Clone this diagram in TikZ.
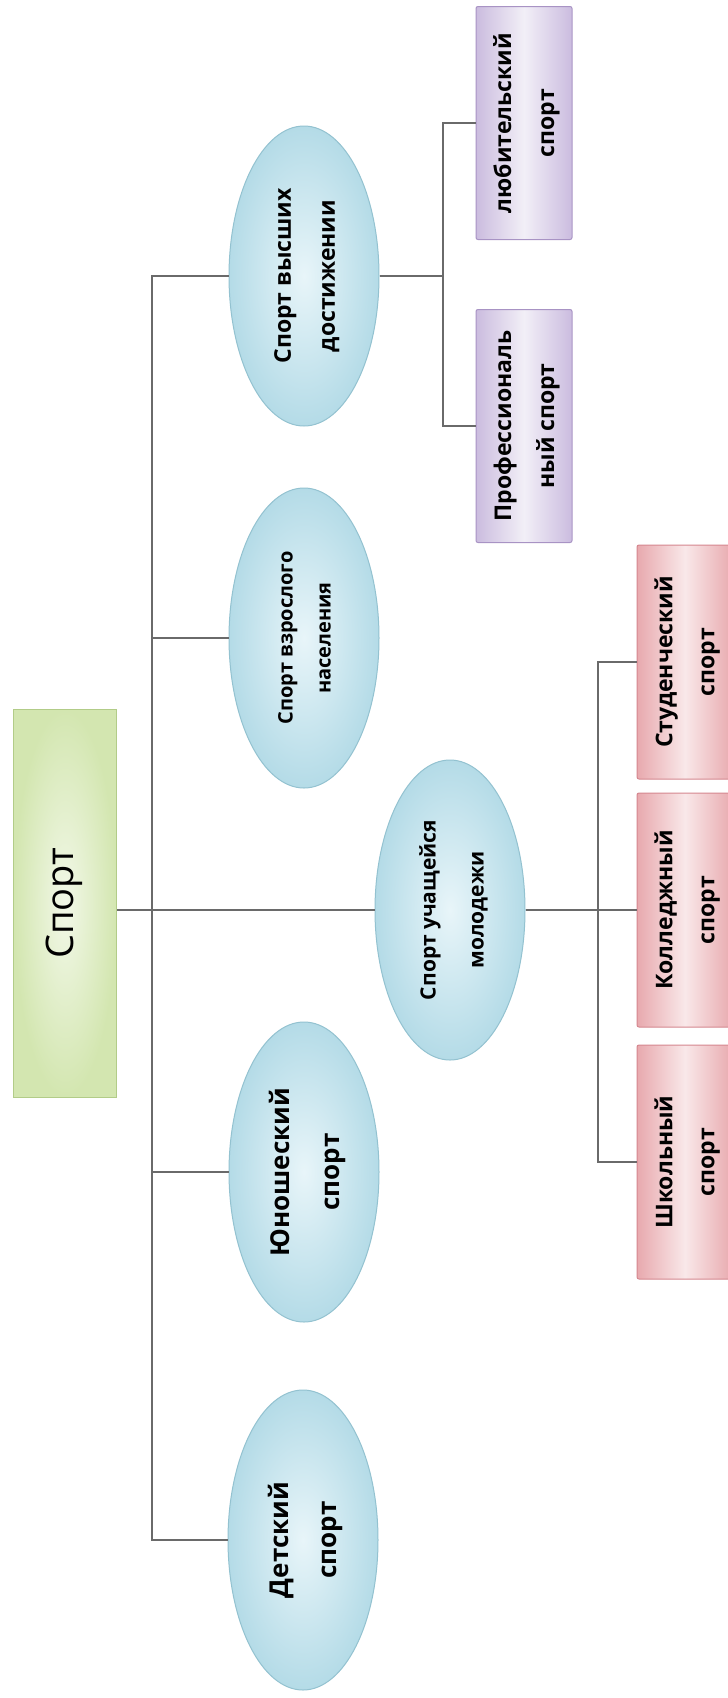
\documentclass[tikz,border=0pt]{standalone}
\usepackage{fontspec}
\usepackage{graphicx}
\setmainfont{Open Sans}
\usetikzlibrary{shapes.geometric}

\definecolor{lineC}{HTML}{6A6A6A}
\definecolor{blueIn}{HTML}{E8F5F9}
\definecolor{blueOut}{HTML}{B4DBE7}
\definecolor{blueEdge}{HTML}{93C2D0}
\definecolor{greenIn}{HTML}{F2F8E8}
\definecolor{greenOut}{HTML}{D3E6B0}
\definecolor{greenEdge}{HTML}{B2CC88}
\definecolor{violetIn}{HTML}{F2EFF7}
\definecolor{violetOut}{HTML}{CBBCDF}
\definecolor{violetEdge}{HTML}{A893C4}
\definecolor{pinkIn}{HTML}{F9E8E9}
\definecolor{pinkOut}{HTML}{E8A9AE}
\definecolor{pinkEdge}{HTML}{D5878F}

% text set bottom-to-top: size, line pitch, lines
\newcommand{\uptext}[3]{\rotatebox{90}{\fontsize{#1}{#2}\selectfont
  \begin{tabular}{@{}c@{}}#3\end{tabular}}}

\tikzset{
  conn/.style={draw=lineC, line width=1.4pt},
  oval/.style={ellipse, draw=blueEdge, line width=1pt,
    inner color=blueIn, outer color=blueOut,
    minimum width=150pt, minimum height=300pt, inner sep=0pt,
    font=\bfseries},
  rootbox/.style={rectangle, draw=greenEdge, line width=1pt,
    inner color=greenIn, outer color=greenOut,
    minimum width=103pt, minimum height=388pt, inner sep=0pt},
  violetbox/.style={rectangle, rounded corners=2pt, draw=violetEdge, line width=1pt,
    left color=violetOut, right color=violetOut, middle color=violetIn,
    minimum width=96pt, minimum height=233pt, inner sep=0pt, font=\bfseries},
  pinkbox/.style={rectangle, rounded corners=2pt, draw=pinkEdge, line width=1pt,
    left color=pinkOut, right color=pinkOut, middle color=pinkIn,
    minimum width=96pt, minimum height=234pt, inner sep=0pt, font=\bfseries},
}

\begin{document}
\begin{tikzpicture}[x=1pt, y=-1pt]
  \path[use as bounding box, fill=white] (0,0) rectangle (728,1698);
  \clip (0,0) rectangle (728,1698);

  % root
  \node[rootbox] (root) at (65,903) {\uptext{38}{44}{Спорт}};

  % second level
  \node[oval] (vys) at (304,276) {\uptext{23}{44}{Спорт высших\\достижении}};
  \node[oval] (vzr) at (304,638) {\uptext{20}{38}{Спорт взрослого\\населения}};
  \node[oval] (ucha) at (450,910) {\uptext{21}{48}{Спорт учащейся\\молодежи}};
  \node[oval] (yun) at (304,1172) {\uptext{26}{50}{Юношеский\\спорт}};
  \node[oval] (det) at (303,1540) {\uptext{26}{48}{Детский\\спорт}};

  % third level
  \node[violetbox] (lyub) at (524,123) {\uptext{23}{43}{любительский\\спорт}};
  \node[violetbox] (prof) at (524,426) {\uptext{23}{43}{Профессиональ\\ный спорт}};
  \node[pinkbox] (stud) at (685,662) {\uptext{23}{42}{Студенческий\\спорт}};
  \node[pinkbox] (koll) at (685,910) {\uptext{23}{42}{Колледжный\\спорт}};
  \node[pinkbox] (shk) at (685,1162) {\uptext{23}{42}{Школьный\\спорт}};

  % bus lines
  \coordinate (trunk) at (152,0);
  \coordinate (vbus) at (443,0);
  \coordinate (pbus) at (598,0);

  \draw[conn] (vys.west) -- (vys.west -| trunk) -- (det.west -| trunk) -- (det.west);
  \draw[conn] (vzr.west) -- (vzr.west -| trunk);
  \draw[conn] (yun.west) -- (yun.west -| trunk);
  \draw[conn] (ucha.west -| root.east) -- (ucha.west);

  \draw[conn] (vys.east) -- (vys.east -| vbus);
  \draw[conn] (lyub.west) -- (lyub.west -| vbus) -- (prof.west -| vbus) -- (prof.west);

  \draw[conn] (ucha.east) -- (koll.west);
  \draw[conn] (stud.west) -- (stud.west -| pbus) -- (shk.west -| pbus) -- (shk.west);
\end{tikzpicture}
\end{document}
